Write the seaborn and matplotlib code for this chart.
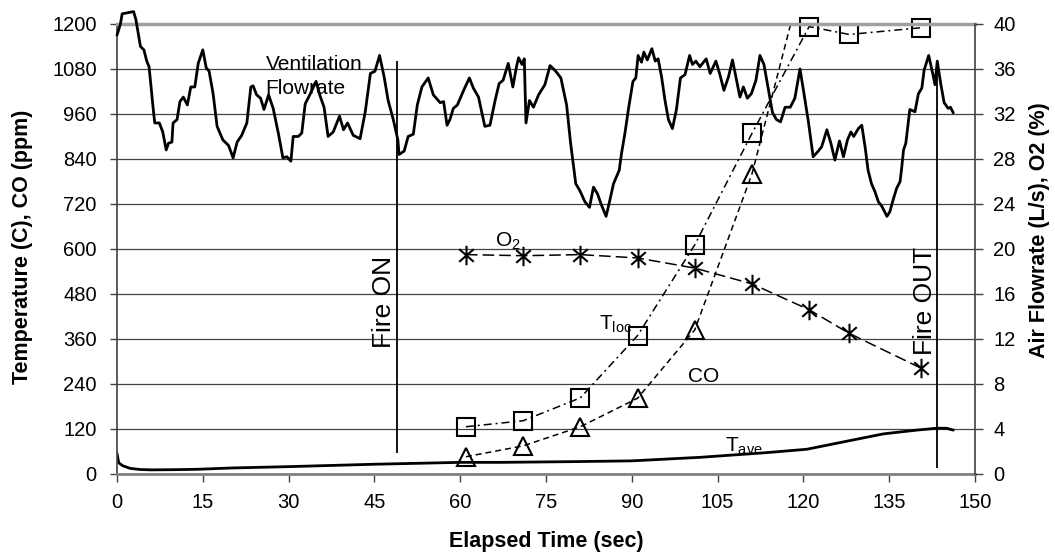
import matplotlib
matplotlib.use("Agg")
import matplotlib.pyplot as plt
from matplotlib.path import Path
import seaborn as sns

# ---- values ----
# sampled points (thermocouple T_loc, CO, O2)
sample_t = [61, 71, 81, 91, 101, 111, 121, 128, 140.6]
t_loc = [126, 142, 203, 369, 611, 908, 1193, 1172, 1190]
o2_pct = [19.5, 19.4, 19.5, 19.2, 18.3, 16.9, 14.6, 12.5, 9.4]
co_t = [61, 71, 81, 91, 101, 111, 121]
co_ppm = [46, 75, 126, 202, 384, 800, 1390]

# average temperature trace
tave_t = [0.0, 0.3, 1.0, 2.3, 4.0, 6.0, 10.0, 14.0, 20.0, 30.0, 45.0, 60.0,
          67.0, 80.0, 90.0, 102.0, 113.6, 120.6, 128.1, 134.0, 139.8, 143.3,
          145.0, 146.2]
tave_c = [55, 30, 22, 15, 12, 11, 11.5, 12.5, 16, 19.6, 26, 31,
          31, 33, 35, 44.5, 57, 66, 89, 107, 117, 122,
          122, 117]

# ventilation flowrate trace (L/s)
vent_t = [0.0, 0.6, 0.9, 2.9, 3.3, 3.7, 4.1, 4.7, 5.2, 5.6, 5.9, 6.3, 6.6, 7.4,
          8.0, 8.6, 9.0, 9.6, 9.8, 10.5, 11.0, 11.6, 12.3, 12.9, 13.6, 14.2,
          15.0, 15.6, 16.1, 16.8, 17.5, 18.5, 19.5, 20.3, 21.0, 21.8, 22.7,
          23.4, 23.8, 24.4, 25.1, 25.7, 26.5, 27.3, 28.2, 29.0, 29.7, 30.4,
          30.8, 31.7, 32.3, 32.9, 33.7, 34.8, 35.5, 36.2, 36.9, 37.8, 38.9,
          39.6, 40.3, 41.3, 42.5, 43.4, 44.3, 45.1, 45.9, 46.7, 47.4, 48.3,
          49.1, 49.3, 50.2, 50.9, 51.8, 52.5, 53.3, 54.4, 55.3, 56.5, 57.1,
          57.7, 58.2, 58.8, 59.5, 60.6, 61.6, 62.3, 63.2, 64.3, 65.2, 66.1,
          66.8, 67.5, 68.4, 69.2, 69.8, 70.2, 70.8, 71.2, 71.5, 72.1, 72.8,
          73.7, 74.8, 75.7, 76.7, 77.6, 78.6, 79.3, 79.9, 80.2, 80.9, 81.8,
          82.6, 83.3, 84.0, 84.7, 85.5, 86.1, 86.8, 87.3, 87.8, 88.2, 88.8,
          89.4, 90.2, 90.7, 91.1, 91.7, 92.1, 92.7, 93.5, 94.1, 94.6, 95.2,
          95.8, 96.4, 97.1, 97.8, 98.5, 99.3, 100.1, 100.6, 101.2, 101.9,
          103.0, 103.7, 104.7, 105.4, 106.1, 106.9, 107.6, 108.3, 108.9,
          109.5, 110.2, 110.9, 111.7, 112.4, 113.1, 113.9, 114.6, 115.3,
          116.0, 116.8, 117.7, 118.5, 119.4, 120.1, 120.9, 121.7, 122.6,
          123.2, 124.1, 124.8, 125.5, 126.3, 127.0, 127.7, 128.3, 128.8,
          129.6, 130.2, 130.8, 131.3, 131.9, 132.5, 133.1, 133.7, 134.6,
          135.1, 135.7, 136.3, 136.9, 137.2, 137.5, 137.9, 138.6, 139.5,
          140.1, 140.7, 141.1, 141.9, 142.6, 143.0, 143.4, 144.0, 144.6,
          145.3, 145.7, 146.2]
vent_ls = [39.0, 40.0, 40.9, 41.1, 40.4, 39.2, 38.0, 37.7, 36.7, 36.2, 34.7,
           32.6, 31.2, 31.2, 30.4, 28.8, 29.4, 29.5, 31.2, 31.5, 33.1, 33.5,
           32.8, 34.4, 34.4, 36.5, 37.7, 36.1, 35.8, 33.8, 30.9, 29.7, 29.2,
           28.1, 29.5, 30.1, 31.2, 34.4, 34.5, 33.7, 33.4, 32.4, 33.7, 32.5,
           30.3, 28.1, 28.2, 27.8, 30.0, 30.0, 30.3, 32.9, 33.7, 34.9, 33.6,
           32.6, 30.0, 30.4, 31.8, 30.6, 31.2, 30.1, 29.8, 32.2, 35.6, 35.8,
           37.2, 35.3, 33.2, 31.5, 29.7, 28.4, 28.7, 30.0, 30.2, 32.8, 34.4,
           35.2, 33.7, 33.0, 33.1, 31.0, 31.5, 32.5, 32.8, 34.1, 35.2, 34.3,
           33.5, 30.9, 31.0, 33.2, 34.7, 35.0, 36.5, 34.4, 36.1, 37.0, 36.4,
           36.9, 31.2, 33.2, 32.6, 33.7, 34.6, 36.3, 35.8, 35.2, 32.8, 29.4,
           27.0, 25.8, 25.2, 24.2, 23.7, 25.5, 24.9, 23.9, 22.9, 24.2, 25.8,
           26.4, 27.0, 28.5, 30.3, 32.4, 34.9, 35.2, 37.2, 36.6, 37.5, 36.8,
           37.8, 36.7, 36.9, 35.3, 33.2, 31.5, 30.7, 32.4, 35.2, 35.5, 37.2,
           36.4, 36.7, 36.2, 36.9, 35.6, 36.7, 35.5, 34.1, 35.3, 36.8, 35.0,
           33.5, 34.4, 33.4, 33.8, 35.0, 37.2, 36.4, 34.1, 32.1, 31.5, 31.3,
           32.6, 32.6, 33.4, 36.0, 33.8, 31.2, 28.2, 28.7, 29.1, 30.6, 29.4,
           27.9, 29.6, 28.2, 29.7, 30.4, 30.0, 30.7, 31.0, 29.0, 27.0, 25.8,
           25.1, 24.2, 23.8, 22.9, 23.3, 24.4, 25.4, 26.0, 27.3, 28.8, 29.4,
           32.4, 32.2, 33.8, 34.3, 35.9, 37.2, 35.6, 34.6, 36.7, 34.7, 33.0,
           32.5, 32.6, 32.1]

fire_on_t = 49.0
fire_out_t = 143.3
x_ticks = list(range(0, 151, 15))
left_ticks = list(range(0, 1201, 120))
right_ticks = list(range(0, 41, 4))

sns.set_style("ticks")
plt.rcParams['font.family'] = ['Liberation Sans', 'DejaVu Sans']
plt.rcParams['mathtext.default'] = 'regular'
plt.rcParams['text.color'] = 'black'
plt.rcParams['axes.labelcolor'] = 'black'
plt.rcParams['xtick.color'] = 'black'
plt.rcParams['ytick.color'] = 'black'

fig = plt.figure(figsize=(10.55, 5.56), dpi=100)
ax = fig.add_axes([0.1109, 0.1475, 0.8133, 0.8094])
ax2 = ax.twinx()

# asterisk marker like the spreadsheet one (vertical bar + X)
star = Path([(0, -1), (0, 1), (-0.75, -0.65), (0.75, 0.65), (-0.75, 0.65), (0.75, -0.65)],
            [Path.MOVETO, Path.LINETO] * 3)

# left axis: temperatures and CO
sns.lineplot(x=tave_t, y=tave_c, ax=ax, color='black', linewidth=2.0,
             sort=False, estimator=None)
sns.lineplot(x=sample_t, y=t_loc, ax=ax, color='black', linewidth=1.1,
             linestyle=(0, (5.2, 2.6, 1.3, 2.6)), marker='s', markersize=13,
             markerfacecolor='none', markeredgecolor='black', markeredgewidth=1.5,
             sort=False, estimator=None, clip_on=False)
sns.lineplot(x=co_t, y=co_ppm, ax=ax, color='black', linewidth=1.1,
             linestyle=(0, (3.9, 2.6)), marker='^', markersize=13,
             markerfacecolor='none', markeredgecolor='black', markeredgewidth=1.5,
             sort=False, estimator=None)

# right axis: flowrate and O2
sns.lineplot(x=vent_t, y=vent_ls, ax=ax2, color='black', linewidth=2.0,
             sort=False, estimator=None, clip_on=False)
sns.lineplot(x=sample_t, y=o2_pct, ax=ax2, color='black', linewidth=1.1,
             linestyle=(0, (7.6, 3.3)), marker=star, markersize=14,
             markerfacecolor='none', markeredgecolor='black', markeredgewidth=1.5,
             sort=False, estimator=None)

# fire on / fire out markers
ax.vlines([fire_on_t], 57, 1100, color='black', linewidth=1.3)
ax.vlines([fire_out_t], 16, 1100, color='black', linewidth=1.3)
ax.text(46.7, 459, 'Fire ON', rotation=90, ha='center', va='center', fontsize=19)
ax.text(141.3, 461, 'Fire OUT', rotation=90, ha='center', va='center', fontsize=19)

ax.text(26.0, 1060, 'Ventilation\nFlowrate', ha='left', va='center', fontsize=15,
        linespacing=1.3)
ax.text(66.1, 605, 'O$_2$', ha='left', va='baseline', fontsize=15)
ax.text(84.2, 384, 'T$_{loc}$', ha='left', va='baseline', fontsize=15)
ax.text(99.9, 246, 'CO', ha='left', va='baseline', fontsize=15)
ax.text(106.3, 59.5, 'T$_{ave}$', ha='left', va='baseline', fontsize=15)

# axes limits / ticks
ax.set_xlim(0, 150)
ax.set_ylim(0, 1200)
ax2.set_ylim(0, 40)
ax.set_xticks(x_ticks)
ax.set_yticks(left_ticks)
ax2.set_yticks(right_ticks)
ax.yaxis.grid(True, color='#454545', linewidth=0.9)
ax.xaxis.grid(False)

ax.tick_params(axis='y', direction='out', length=5, width=1, color='#404040',
               pad=9.5, labelsize=14.5)
ax.tick_params(axis='x', direction='out', length=6, width=1, color='#404040',
               pad=8, labelsize=14.5)
ax2.tick_params(axis='y', direction='out', length=6, width=1, color='#404040',
                pad=7, labelsize=14.5)

ax.set_xlabel('Elapsed Time (sec)', fontsize=15.5, fontweight='bold')
ax.set_ylabel('Temperature (C), CO (ppm)', fontsize=15.5, fontweight='bold')
ax2.set_ylabel('Air Flowrate (L/s), O2 (%)', fontsize=15.5, fontweight='bold')
ax.xaxis.set_label_coords(0.5, -0.127)
ax.yaxis.set_label_coords(-0.098, 0.505)
ax2.yaxis.set_label_coords(1.063, 0.542)

for s in ['right']:
    ax.spines[s].set_visible(False)
for s in ['top', 'left', 'bottom']:
    ax2.spines[s].set_visible(False)
ax.spines['left'].set_color('#404040')
ax.spines['left'].set_linewidth(1.2)
ax.spines['bottom'].set_color('#808080')
ax.spines['bottom'].set_linewidth(2)
ax.spines['top'].set_color('#a0a0a0')
ax.spines['top'].set_linewidth(2.5)
ax2.spines['right'].set_color('#404040')
ax2.spines['right'].set_linewidth(1.2)

fig.savefig('out.png', dpi=100)
